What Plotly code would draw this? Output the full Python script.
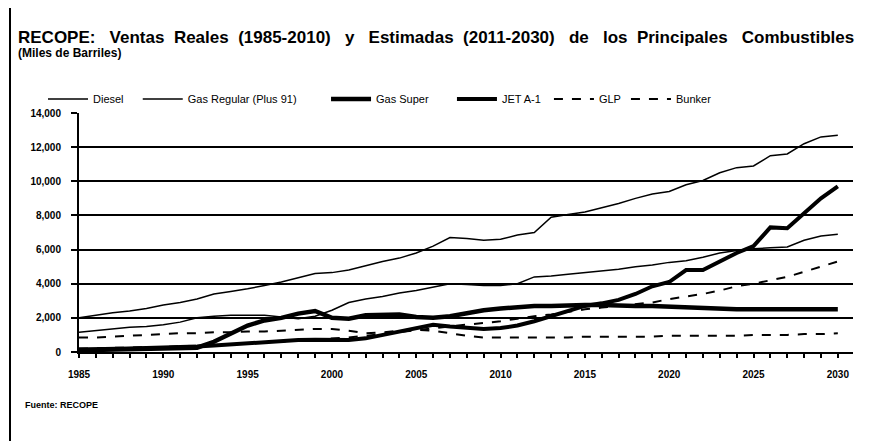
import plotly.graph_objects as go

years = list(range(1985, 2031))

diesel = [2000, 2150, 2300, 2400, 2550, 2750, 2900, 3100, 3400, 3550,
          3700, 3900, 4100, 4350, 4600, 4650, 4800, 5050, 5300, 5500,
          5800, 6200, 6700, 6650, 6550, 6600, 6850, 7000, 7900, 8050,
          8200, 8450, 8700, 9000, 9250, 9400, 9800, 10050, 10500, 10800,
          10900, 11500, 11600, 12200, 12600, 12700]
gas_regular = [1150, 1250, 1350, 1450, 1500, 1600, 1750, 2000, 2100, 2150,
               2150, 2150, 2050, 1950, 2100, 2450, 2900, 3100, 3250, 3450,
               3600, 3800, 4000, 3950, 3900, 3900, 4000, 4400, 4450, 4550,
               4650, 4750, 4850, 5000, 5100, 5250, 5350, 5550, 5800, 5950,
               6050, 6100, 6150, 6550, 6800, 6900]
gas_super = [100, 120, 150, 180, 200, 230, 270, 250, 600, 1050,
             1550, 1850, 2000, 2250, 2400, 2000, 1950, 2150, 2200, 2200,
             2050, 2000, 2100, 2300, 2450, 2550, 2650, 2700, 2700, 2750,
             2750, 2750, 2700, 2700, 2700, 2650, 2600, 2550, 2500, 2500,
             2500, 2500, 2500, 2550, 2550, 2500]
jet_a1 = [150, 150, 180, 200, 230, 250, 280, 320, 380, 450,
          520, 600, 650, 700, 720, 720, 700, 800, 1000, 1250,
          1450, 1600, 1500, 1400, 1350, 1400, 1550, 1800, 2100, 2450,
          2700, 2850, 3050, 3400, 3850, 4100, 4800, 4800, 5300, 5800,
          6200, 7300, 7250, 8100, 9000, 9700]
glp = [200, 210, 230, 250, 280, 300, 330, 360, 400, 450,
       500, 560, 620, 680, 720, 760, 850, 950, 1050, 1150,
       1250, 1380, 1500, 1600, 1700, 1800, 1950, 2100, 2200, 2350,
       2500, 2600, 2700, 2800, 2900, 3100, 3250, 3400, 3600, 3850,
       4000, 4200, 4400, 4700, 5000, 5300]
bunker = [850, 850, 900, 950, 1000, 1050, 1100, 1100, 1150, 1150,
          1200, 1200, 1250, 1300, 1350, 1350, 1250, 1100, 1150, 1250,
          1300, 1250, 1100, 950, 850, 850, 850, 850, 850, 850,
          900, 900, 900, 900, 900, 950, 950, 950, 950, 950,
          1000, 1000, 1000, 1050, 1050, 1100]

y_ticks = [0, 2000, 4000, 6000, 8000, 10000, 12000, 14000]
x_ticks = [1985, 1990, 1995, 2000, 2005, 2010, 2015, 2020, 2025, 2030]

# name, values, width, dash, extra legend padding (nbsp count)
series = [
    ("Diesel", diesel, 1.5, "solid", 3),
    ("Gas Regular (Plus 91)", gas_regular, 1.5, "solid", 8),
    ("Gas Super", gas_super, 4.5, "solid", 6),
    ("JET A-1", jet_a1, 4, "solid", 1),
    ("GLP", glp, 2, "dash", 0),
    ("Bunker", bunker, 2, "dash", 0),
]

# the page draws the figure 8px in from the window corner
W, H = 861, 433
L, R, T, B = 71, 16, 105, 89
pw, ph = W - L - R, H - T - B


def px_x(x):
    return (x - 8 - L) / pw


def px_y(y):
    return (H - B - (y - 8)) / ph


font = "Liberation Sans, Arial, sans-serif"

fig = go.Figure()
for name, vals, w, dash, pad in series:
    fig.add_trace(go.Scatter(x=years, y=vals, name=name + "\u00a0" * pad, mode="lines",
                             line=dict(color="black", width=w, dash=dash)))

fig.update_xaxes(range=[1985, 2030.9], tickvals=x_ticks, showgrid=False,
                 showline=True, linecolor="black", linewidth=2,
                 ticks="outside", ticklen=4, tickcolor="black", tickwidth=1.5,
                 minor=dict(dtick=1, ticks="outside", ticklen=4, tickcolor="black", tickwidth=1.5),
                 tickfont=dict(family=font, size=10, color="black", weight="bold"),
                 ticklabelstandoff=8, zeroline=False)
fig.update_yaxes(range=[0, 14000], tickvals=y_ticks, tickformat=",",
                 showgrid=True, gridcolor="black", gridwidth=2,
                 showline=True, linecolor="black", linewidth=2,
                 ticks="outside", ticklen=6, tickcolor="black", tickwidth=1.5,
                 tickfont=dict(family=font, size=10, color="black", weight="bold"),
                 ticklabelstandoff=8, zeroline=False)

title = ("<b>RECOPE:   Ventas  Reales  (1985-2010)   y   Estimadas  (2011-2030)   de   "
         "los  Principales   Combustibles</b>")
fig.add_annotation(text=title,
                   xref="paper", yref="paper", x=px_x(16), y=px_y(37),
                   xanchor="left", yanchor="middle", showarrow=False,
                   font=dict(family=font, size=17, color="black"))
fig.add_annotation(text="<b>(Miles de Barriles)</b>",
                   xref="paper", yref="paper", x=px_x(16), y=px_y(53),
                   xanchor="left", yanchor="middle", showarrow=False,
                   font=dict(family=font, size=12, color="black"))
fig.add_annotation(text="<b>Fuente: RECOPE</b>",
                   xref="paper", yref="paper", x=px_x(23), y=px_y(405),
                   xanchor="left", yanchor="middle", showarrow=False,
                   font=dict(family="Liberation Sans Narrow, Arial Narrow, sans-serif", size=9, color="black"))
# left frame line of the scanned chart box
fig.add_shape(type="line", xref="paper", yref="paper",
              x0=px_x(10), x1=px_x(10), y0=px_y(441), y1=px_y(0),
              line=dict(color="black", width=2))

fig.update_layout(width=W, height=H, margin=dict(l=L, r=R, t=T, b=B),
                  plot_bgcolor="white", paper_bgcolor="white",
                  showlegend=True,
                  legend=dict(orientation="h", x=px_x(43), y=px_y(99),
                              xanchor="left", yanchor="middle",
                              font=dict(family=font, size=11, color="black"),
                              itemwidth=40, bgcolor="rgba(0,0,0,0)",
                              tracegroupgap=0))

fig.write_html("out.html")
